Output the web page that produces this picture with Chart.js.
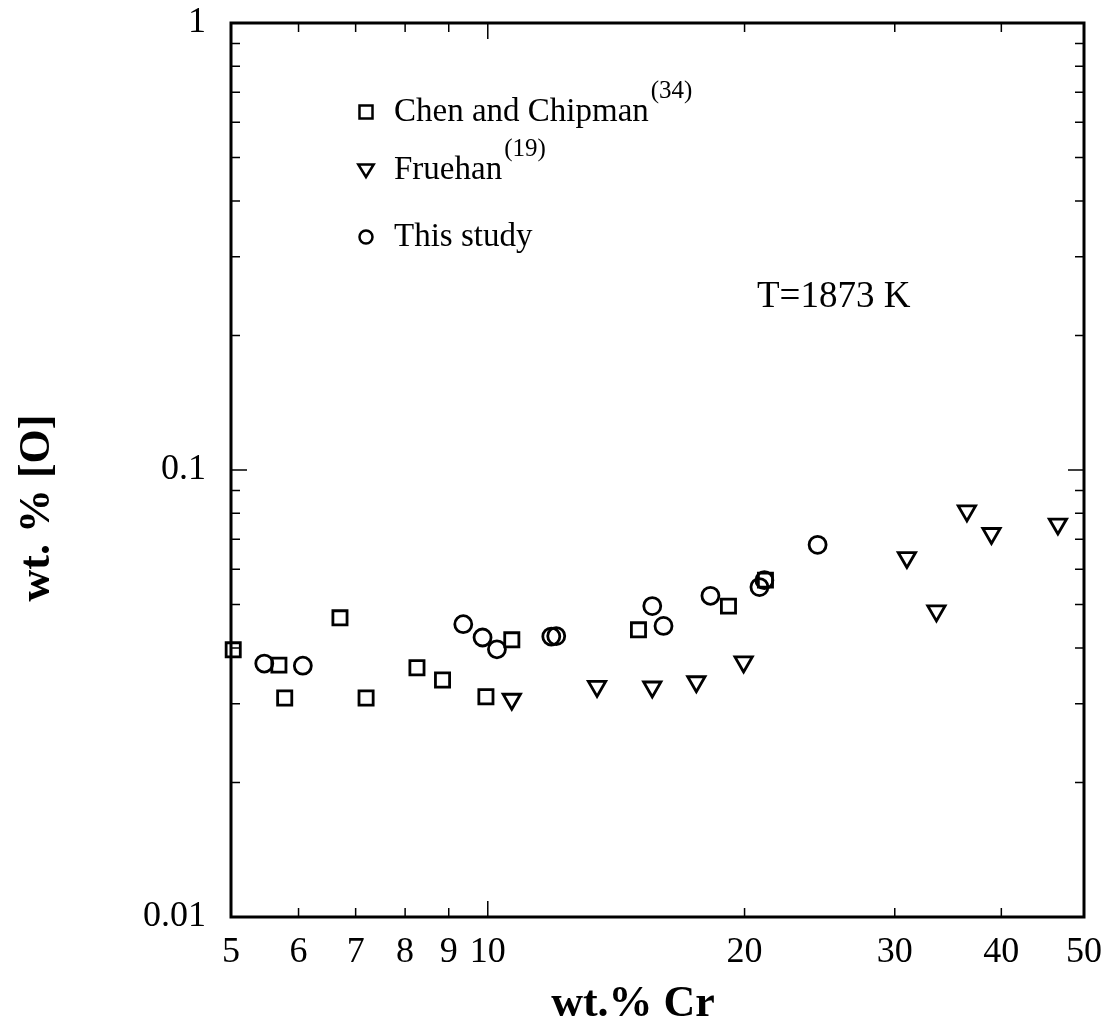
<!DOCTYPE html>
<html lang="en">

<head>
    <meta charset="utf-8">
    <title>Oxygen solubility vs Cr</title>
    <script src="https://cdn.jsdelivr.net/npm/chart.js"></script>
    <style>
        body {
            margin: 0;
            background: #fff;
        }

        canvas {
            display: block;
        }
    </style>
</head>

<body>
    <canvas id="oxygenChart" width="1116" height="1030"></canvas>

    <script>
        // wt.% Cr / wt.% [O] at 1873 K
        const chenCr = [5.03, 5.69, 5.78, 6.71, 7.20, 8.26, 8.85, 9.95, 10.67, 15.02, 19.15, 21.16];
        const chenO = [0.0396, 0.0366, 0.0309, 0.0467, 0.0309, 0.0361, 0.0339, 0.0311, 0.0417, 0.0439, 0.0496, 0.0567];

        const fruehanCr = [10.67, 13.43, 15.59, 17.56, 19.95, 31.0, 33.57, 36.45, 38.95, 46.6];
        const fruehanO = [0.0307, 0.0328, 0.0327, 0.0336, 0.0372, 0.0637, 0.0484, 0.081, 0.0721, 0.0757];

        const studyCr = [5.47, 6.07, 9.36, 9.86, 10.25, 11.87, 12.03, 15.59, 16.07, 18.24, 20.82, 21.10, 24.36];
        const studyO = [0.0369, 0.0365, 0.0452, 0.0422, 0.0397, 0.0424, 0.0425, 0.0496, 0.0448, 0.0523, 0.0547, 0.0567, 0.0680];

        const xTickValues = [5, 6, 7, 8, 9, 10, 20, 30, 40, 50];
        const yTickValues = [0.01, 0.02, 0.03, 0.04, 0.05, 0.06, 0.07, 0.08, 0.09,
            0.1, 0.2, 0.3, 0.4, 0.5, 0.6, 0.7, 0.8, 0.9, 1];
        const yTickLabels = ['0.01', '0.1', '1'];

        const legendNames = ['Chen and Chipman', 'Fruehan', 'This study'];
        const legendRefs = ['(34)', '(19)', ''];

        function toPoints(xs, ys) {
            return xs.map((x, i) => ({ x: x, y: ys[i] }));
        }

        const serif = '"Liberation Serif", "Times New Roman", serif';

        function isDecade(v) {
            const l = Math.log10(v);
            return Math.abs(l - Math.round(l)) < 1e-9;
        }

        function drawMarker(ctx, style, x, y, r) {
            ctx.beginPath();
            if (style === 'rect') {
                ctx.rect(x - r, y - r, 2 * r, 2 * r);
            } else if (style === 'triangle') {
                ctx.moveTo(x - r * 1.1, y - r * 0.8);
                ctx.lineTo(x + r * 1.1, y - r * 0.8);
                ctx.lineTo(x, y + r * 1.0);
                ctx.closePath();
            } else {
                ctx.arc(x, y, r, 0, Math.PI * 2);
            }
            ctx.stroke();
        }

        // box, inward ticks on all sides, legend and labels
        const framePlugin = {
            id: 'framePlugin',
            afterDatasetsDraw(chart) {
                const ctx = chart.ctx;
                const a = chart.chartArea;
                const xs = chart.scales.x;
                const ys = chart.scales.y;
                ctx.save();
                ctx.strokeStyle = '#000';
                ctx.lineWidth = 3;
                ctx.strokeRect(a.left, a.top, a.right - a.left, a.bottom - a.top);

                ctx.lineWidth = 1.5;
                ctx.beginPath();
                xs.ticks.forEach(t => {
                    const px = xs.getPixelForValue(t.value);
                    const len = isDecade(t.value) ? 16 : 9;
                    ctx.moveTo(px, a.bottom);
                    ctx.lineTo(px, a.bottom - len);
                    ctx.moveTo(px, a.top);
                    ctx.lineTo(px, a.top + len);
                });
                ys.ticks.forEach(t => {
                    const py = ys.getPixelForValue(t.value);
                    const len = isDecade(t.value) ? 16 : 9;
                    ctx.moveTo(a.left, py);
                    ctx.lineTo(a.left + len, py);
                    ctx.moveTo(a.right, py);
                    ctx.lineTo(a.right - len, py);
                });
                ctx.stroke();

                // legend
                const rows = [112, 170, 237];
                const styles = ['rect', 'triangle', 'circle'];
                const sizes = [6.5, 7, 6.5];
                ctx.lineWidth = 2.5;
                ctx.fillStyle = '#000';
                ctx.textBaseline = 'middle';
                rows.forEach((y, i) => {
                    drawMarker(ctx, styles[i], 366, y, sizes[i]);
                    ctx.font = '33px ' + serif;
                    ctx.textAlign = 'left';
                    ctx.fillText(legendNames[i], 394, y);
                    if (legendRefs[i]) {
                        const w = ctx.measureText(legendNames[i]).width;
                        ctx.font = '25px ' + serif;
                        ctx.fillText(legendRefs[i], 394 + w + 2, y - 21);
                    }
                });

                ctx.font = '37px ' + serif;
                ctx.fillText('T=1873 K', 757, 297);

                // axis titles
                ctx.font = 'bold 44px ' + serif;
                ctx.textAlign = 'center';
                ctx.fillText('wt.% Cr', 633, 1005);
                ctx.save();
                ctx.translate(38, 508);
                ctx.rotate(-Math.PI / 2);
                ctx.fillText('wt. % [O]', 0, 0);
                ctx.restore();
                ctx.restore();
            }
        };

        const markerCommon = {
            backgroundColor: 'rgba(0,0,0,0)',
            borderColor: '#000',
            borderWidth: 2.8,
            clip: false
        };

        const ctx = document.getElementById('oxygenChart').getContext('2d');
        const oxygenChart = new Chart(ctx, {
            type: 'scatter',
            data: {
                datasets: [
                    Object.assign({
                        label: legendNames[0],
                        data: toPoints(chenCr, chenO),
                        pointStyle: 'rect',
                        pointRadius: 10
                    }, markerCommon),
                    Object.assign({
                        label: legendNames[1],
                        data: toPoints(fruehanCr, fruehanO),
                        pointStyle: 'triangle',
                        rotation: 180,
                        pointRadius: 10
                    }, markerCommon),
                    Object.assign({
                        label: legendNames[2],
                        data: toPoints(studyCr, studyO),
                        pointStyle: 'circle',
                        pointRadius: 8.5
                    }, markerCommon)
                ]
            },
            options: {
                responsive: false,
                animation: false,
                layout: {
                    padding: { left: 0, top: 0, right: 31, bottom: 0 }
                },
                plugins: {
                    legend: { display: false },
                    tooltip: { enabled: false }
                },
                scales: {
                    x: {
                        type: 'logarithmic',
                        min: 5,
                        max: 50,
                        grid: { display: false, drawTicks: false },
                        border: { display: false },
                        afterBuildTicks: function (scale) {
                            scale.ticks = xTickValues.map(v => ({ value: v }));
                        },
                        afterFit: function (scale) { scale.height = 113; },
                        ticks: {
                            autoSkip: false,
                            maxRotation: 0,
                            padding: 14,
                            color: '#000',
                            font: { family: serif, size: 36 },
                            callback: function (value) { return String(value); }
                        }
                    },
                    y: {
                        type: 'logarithmic',
                        min: 0.01,
                        max: 1,
                        grid: { display: false, drawTicks: false },
                        border: { display: false },
                        afterBuildTicks: function (scale) {
                            scale.ticks = yTickValues.map(v => ({ value: v }));
                        },
                        afterFit: function (scale) {
                            scale.width = 231;
                            scale.paddingTop = 23;
                            scale.paddingBottom = 0;
                        },
                        ticks: {
                            autoSkip: false,
                            padding: 25,
                            color: '#000',
                            font: { family: serif, size: 36 },
                            callback: function (value) {
                                const s = String(value);
                                return yTickLabels.includes(s) ? s : '';
                            }
                        }
                    }
                }
            },
            plugins: [framePlugin]
        });
    </script>
</body>

</html>
